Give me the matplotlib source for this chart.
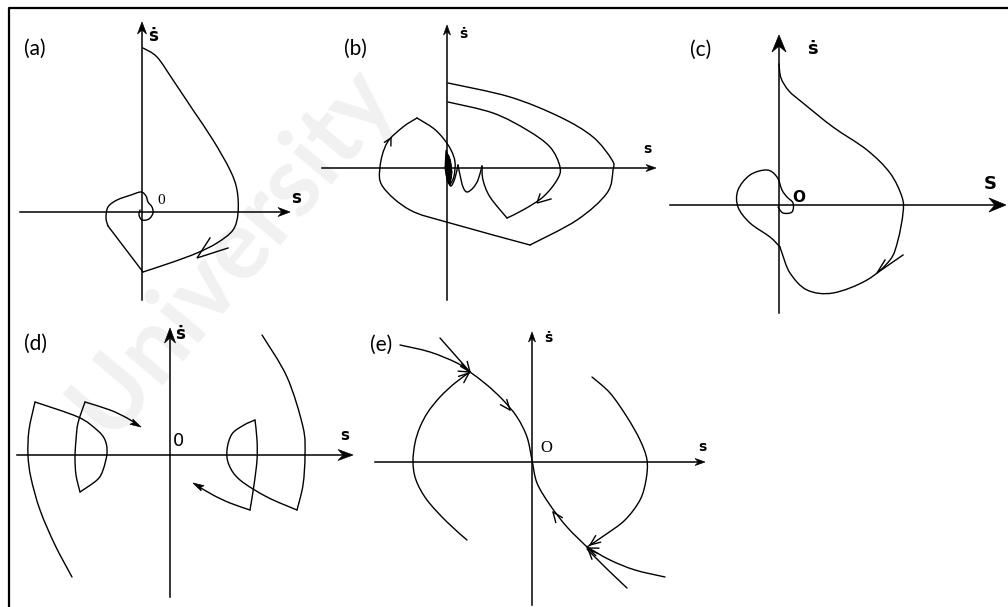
import numpy as np
import matplotlib
matplotlib.use("Agg")
import matplotlib.pyplot as plt
from matplotlib.path import Path
from matplotlib.patches import PathPatch, Polygon

# Phase-plane sketches (a)-(e), all coordinates in figure pixels (y down)

# (a)
A_ORIGIN = (142, 212)
A_XAXIS = (20, 290)
A_YAXIS = (300, 22)
A_OUTER = [(143, 48), (157, 57), (173, 80), (193, 110), (213, 140), (230, 170),
           (237, 190), (238, 213), (233, 230), (217, 243), (197, 253),
           (173, 262), (143, 272)]
A_DIAG = [(143, 272), (108, 226)]
A_INNER = [(108, 226), (106, 218), (108, 207), (117, 200), (131, 195),
           (141, 192), (146, 196), (148, 202), (152, 207), (153, 213),
           (149, 219), (142, 220), (139, 215), (140, 210)]
A_ARROWS = [((197, 258), (210, 238), (228, 248))]

# (b)
B_ORIGIN = (447, 168)
B_XAXIS = (322, 656)
B_YAXIS = (300, 25)
B_OUTER = [(448, 83), (510, 97), (560, 117), (593, 137), (612, 160),
           (613, 170), (607, 193), (577, 220), (530, 245)]
B_BOTTOM = [(530, 245), (450, 223), (410, 210), (383, 187), (380, 167),
            (387, 143), (403, 127), (417, 118)]
B_RETURN = [(417, 118), (433, 128), (443, 138), (451, 150), (455, 162),
            (454, 176), (450, 184), (447, 178), (446, 165), (448, 155),
            (451, 165), (451, 178), (448, 182)]
B_CORE = [(446, 150), (450, 160), (452, 172), (450, 185), (447, 180),
          (445, 168)]
B_INNER = [(448, 102), (493, 113), (527, 130), (550, 147), (560, 167),
           (557, 180), (543, 197), (523, 210), (507, 218)]
B_CUSP1 = [(507, 218), (490, 197), (483, 180), (482, 166)]
B_CUSP2 = [(482, 166), (478, 180), (473, 188), (467, 192), (463, 187),
           (460, 175), (458, 165)]
B_CUSP3 = [(458, 165), (455, 178), (451, 186), (448, 180), (447, 168)]
B_ARROWS = [((537, 203), (540, 194), (551, 199))]
B_HEADS = [((391, 138), (0.55, -1.0))]

# (c)
C_ORIGIN = (779, 205)
C_XAXIS = (670, 1006)
C_YAXIS = (313, 35)
C_OUTER = [(779, 64), (781, 78), (789, 91), (803, 103), (833, 127),
           (867, 150), (890, 173), (902, 197), (903, 213), (898, 240),
           (890, 260), (867, 280), (833, 293), (807, 290), (790, 273),
           (782, 253), (780, 247)]
C_LOOP = [(780, 247), (770, 237), (750, 223), (738, 207), (738, 190),
          (750, 175), (767, 170), (777, 177), (782, 190), (787, 197),
          (793, 203), (792, 212), (783, 213), (778, 207)]
C_ARROWS = [((877, 273), (885, 260), (903, 255))]

# (d)
D_ORIGIN = (170, 455)
D_XAXIS = (17, 353)
D_YAXIS = (597, 328)
D_LEFT_ARC = [(72, 577), (55, 545), (40, 510), (31, 478), (28, 455),
              (29, 430), (35, 402)]
D_LEFT_TOP = [(35, 402), (78, 417), (97, 430), (105, 440), (107, 453),
              (103, 470), (97, 480), (80, 492)]
D_LEFT_IN = [(80, 492), (76, 475), (75, 457), (76, 440), (78, 423), (85, 402)]
D_LEFT_OUT = [(85, 402), (110, 410), (127, 418), (138, 425)]
D_RIGHT_ARC = [(262, 335), (287, 377), (303, 427), (305, 455), (303, 485),
               (297, 510)]
D_RIGHT_BOT = [(297, 510), (267, 497), (240, 480), (229, 465), (227, 450),
               (232, 434), (244, 425), (255, 420)]
D_RIGHT_IN = [(255, 420), (257, 440), (257, 460), (254, 485), (250, 510)]
D_RIGHT_OUT = [(250, 510), (230, 503), (213, 495), (196, 485)]
D_HEADS = [((141, 427), (1.0, 0.55)), ((193, 483), (-1.0, -0.55))]

# (e)
E_ORIGIN = (532, 462)
E_XAXIS = (375, 705)
E_YAXIS = (605, 332)
E_MAIN = [(400, 345), (430, 352), (457, 363), (470, 372), (487, 385),
          (503, 400), (517, 417), (527, 437), (532, 460), (537, 483),
          (550, 505), (567, 527), (587, 547)]
E_TAIL1 = [(587, 547), (610, 560), (635, 570), (665, 577)]
E_TAIL2 = [(587, 549), (607, 569), (627, 588)]
E_LEFT = [(467, 540), (447, 522), (427, 500), (416, 480), (413, 462),
          (415, 443), (420, 427), (428, 412), (440, 397), (455, 383),
          (470, 372)]
E_RIGHT = [(592, 377), (610, 393), (627, 417), (640, 440), (647, 460),
           (646, 480), (640, 500), (625, 520), (605, 535), (587, 547)]
E_UPPER = [(440, 338), (455, 355), (470, 372)]
E_HEADS = [((470, 372), (0.75, 1.0)), ((469, 372), (0.9, 0.45)),
           ((469, 373), (0.9, -0.75)), ((510, 410), (0.65, 0.8)),
           ((553, 512), (-0.6, -0.8)), ((590, 545), (-0.8, 0.6)),
           ((588, 548), (-0.95, -0.4)), ((588, 549), (-0.7, -0.75))]

LABELS = ["(a)", "(b)", "(c)", "(d)", "(e)"]
LABEL_POS = [(24, 49), (344, 49), (690, 50), (24, 344), (370, 345)]


def smooth(ax, pts, lw=1.0):
    # Catmull-Rom through the points, handed to matplotlib as cubic Beziers
    p = np.asarray(pts, float)
    verts = [p[0]]
    codes = [Path.MOVETO]
    n = len(p)
    for i in range(n - 1):
        p0 = p[i - 1] if i > 0 else p[i]
        p3 = p[i + 2] if i + 2 < n else p[i + 1]
        verts += [p[i] + (p[i + 1] - p0) / 6, p[i + 1] - (p3 - p[i]) / 6, p[i + 1]]
        codes += [Path.CURVE4] * 3
    ax.add_patch(PathPatch(Path(verts, codes), fill=False, lw=lw,
                           edgecolor="black", capstyle="round",
                           joinstyle="round"))


def chevron(ax, tip, d, size=11, spread=24, lw=1.0):
    d = np.asarray(d, float)
    d = d / np.hypot(*d)
    for sgn in (1, -1):
        a = np.radians(sgn * spread)
        r = np.array([d[0] * np.cos(a) - d[1] * np.sin(a),
                      d[0] * np.sin(a) + d[1] * np.cos(a)])
        ax.plot([tip[0], tip[0] - size * r[0]], [tip[1], tip[1] - size * r[1]],
                color="black", lw=lw, solid_capstyle="round")


def stealth(ax, tip, d, length=12, width=10, notch=0.35):
    d = np.asarray(d, float)
    d = d / np.hypot(*d)
    nrm = np.array([-d[1], d[0]])
    t = np.asarray(tip, float)
    back = t - length * d
    pts = [t, back + nrm * width / 2, t - length * (1 - notch) * d,
           back - nrm * width / 2]
    ax.add_patch(Polygon(pts, closed=True, facecolor="black",
                         edgecolor="black", lw=0.5))


def axes_cross(ax, origin, xr, yr, head=(12, 10), lw=1.1):
    ox, oy = origin
    ax.plot([xr[0], xr[1] - 4], [oy, oy], color="black", lw=lw)
    ax.plot([ox, ox], [yr[0], yr[1] + 4], color="black", lw=lw)
    stealth(ax, (xr[1], oy), (1, 0), *head)
    stealth(ax, (ox, yr[1]), (0, -1), *head)


fig = plt.figure(figsize=(10.08, 6.07), dpi=100)
ax = fig.add_axes([0, 0, 1, 1])
ax.set_xlim(0, 1008)
ax.set_ylim(607, 0)
ax.axis("off")

# faint watermark behind everything
ax.text(232, 250, "University", fontsize=70, rotation=50, color="#f1f1f1",
        family="Lato", fontweight="bold", ha="center", va="center", zorder=0)

# frame (only top and left edges fall inside the image)
ax.plot([9, 9, 1008], [607, 8, 8], color="black", lw=1.6)

axes_cross(ax, A_ORIGIN, A_XAXIS, A_YAXIS, head=(12, 9))
axes_cross(ax, B_ORIGIN, B_XAXIS, B_YAXIS, head=(10, 7))
axes_cross(ax, C_ORIGIN, C_XAXIS, C_YAXIS, head=(17, 14))
axes_cross(ax, D_ORIGIN, D_XAXIS, D_YAXIS, head=(15, 11))
axes_cross(ax, E_ORIGIN, E_XAXIS, E_YAXIS, head=(10, 7))

for curve in [A_OUTER, A_DIAG, A_INNER,
              B_OUTER, B_BOTTOM, B_RETURN, B_INNER, B_CUSP1, B_CUSP2, B_CUSP3,
              C_OUTER, C_LOOP,
              D_LEFT_ARC, D_LEFT_TOP, D_LEFT_IN, D_LEFT_OUT,
              D_RIGHT_ARC, D_RIGHT_BOT, D_RIGHT_IN, D_RIGHT_OUT,
              E_MAIN, E_TAIL1, E_TAIL2, E_LEFT, E_RIGHT, E_UPPER]:
    smooth(ax, curve)

# dark tangle of the trajectory settling at the origin in (b)
ax.add_patch(Polygon(B_CORE, closed=True, facecolor="black", edgecolor="black",
                     lw=0.8))

for tip, w1, w2 in A_ARROWS + B_ARROWS + C_ARROWS:
    ax.plot([w1[0], tip[0], w2[0]], [w1[1], tip[1], w2[1]], color="black",
            lw=1.0, solid_joinstyle="miter")

for tip, d in B_HEADS:
    chevron(ax, tip, d, 8, 28)
for tip, d in D_HEADS:
    stealth(ax, tip, d, 11, 6, 0.2)
for tip, d in E_HEADS:
    chevron(ax, tip, d, 11, 22)

# axis labels
ax.text(153, 36, "ṡ", fontsize=12, fontweight="bold", ha="center", va="center")
ax.text(296, 198, "s", fontsize=12, fontweight="bold", ha="center", va="center")
ax.text(161, 201, "0", fontsize=11, family="Liberation Serif", ha="center", va="center")

ax.text(463, 34, "ṡ", fontsize=10, fontweight="bold", ha="center", va="center")
ax.text(647, 149, "s", fontsize=10, fontweight="bold", ha="center", va="center")

ax.text(812, 49, "ṡ", fontsize=13, fontweight="bold", ha="center", va="center")
ax.text(990, 184, "S", fontsize=13, fontweight="bold", ha="center", va="center")
ax.text(799, 197, "O", fontsize=11, fontweight="bold", ha="center", va="center")

ax.text(180, 334, "ṡ", fontsize=12, fontweight="bold", ha="center", va="center")
ax.text(345, 436, "s", fontsize=11, fontweight="bold", ha="center", va="center")
ax.text(179, 441, "0", fontsize=13, ha="center", va="center")

ax.text(548, 338, "ṡ", fontsize=10, fontweight="bold", ha="center", va="center")
ax.text(702, 447, "s", fontsize=10, fontweight="bold", ha="center", va="center")
ax.text(546, 448, "O", fontsize=12, family="Liberation Serif", ha="center", va="center")

for lab, (x, y) in zip(LABELS, LABEL_POS):
    ax.text(x, y, lab, fontsize=15, family="Lato", ha="left", va="center")

fig.savefig("out.png", dpi=100)
plt.close(fig)
